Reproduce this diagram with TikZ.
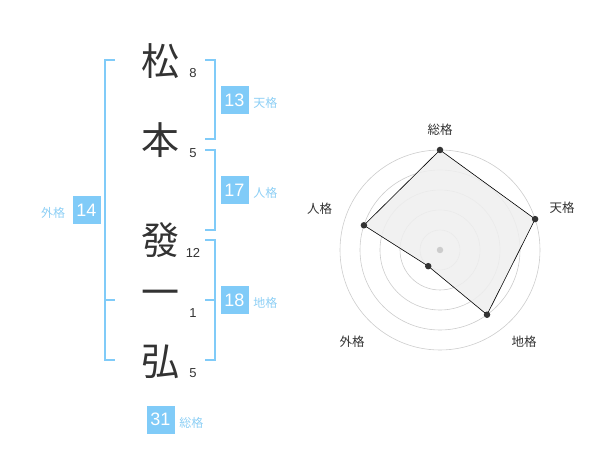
\documentclass[tikz,border=0pt]{standalone}
\usepackage{fontspec}
\setmainfont{Liberation Sans}
\newfontfamily\jpfont{Noto Sans CJK JP}
\usetikzlibrary{positioning}

\definecolor{kakublue}{HTML}{80CBF8}
\definecolor{kakutext}{HTML}{8DCFF5}
\definecolor{ink}{HTML}{333333}
\definecolor{ringgray}{HTML}{CCCCCC}
\definecolor{areagray}{HTML}{EFEFEF}

\tikzset{
  kanji/.style={font=\jpfont\fontsize{38}{38}\selectfont, text=ink, inner sep=0pt},
  strokes/.style={font=\fontsize{13}{13}\selectfont, text=ink, inner sep=0pt},
  kakubox/.style={fill=kakublue, text=white, font=\fontsize{18}{18}\selectfont,
    minimum width=28pt, minimum height=28pt, inner sep=0pt},
  kakuname/.style={font=\jpfont\fontsize{12}{12}\selectfont, text=kakutext, inner sep=0pt},
  bracket/.style={draw=kakublue, line width=2.2pt},
  axisname/.style={font=\jpfont\fontsize{12.5}{12.5}\selectfont, text=ink, inner sep=0pt},
  ring/.style={draw=ringgray, line width=0.6pt},
  dot/.style={circle, fill=ink, inner sep=0pt, minimum size=6.5pt},
}

\begin{document}
\begin{tikzpicture}[x=1pt,y=-1pt,node distance=4.5pt]
  \useasboundingbox (0,0) rectangle (600,470);

  % name
  \node[kanji] (c1) at (160,61) {松};
  \node[kanji] (c2) at (160,140) {本};
  \node[kanji] (c3) at (160,240) {發};
  \node[kanji] (c4) at (160,298) {一};
  \node[kanji] (c5) at (160,362) {弘};

  \node[strokes] (n1) at (193,73) {8};
  \node[strokes] (n2) at (193,153) {5};
  \node[strokes] (n3) at (193,253) {12};
  \node[strokes] (n4) at (193,313) {1};
  \node[strokes] (n5) at (193,373) {5};

  % brackets
  \coordinate (gaitop) at (105,60);
  \coordinate (gaibot) at (105,360);
  \coordinate (tentop) at (215,60);
  \coordinate (tenbot) at (215,139);
  \coordinate (jintop) at (215,150);
  \coordinate (jinbot) at (215,230);
  \coordinate (chitop) at (215,240);
  \coordinate (chibot) at (215,360);

  \draw[bracket] ([xshift=10pt]gaitop) -- (gaitop) -- (gaibot) -- ([xshift=10pt]gaibot);
  \draw[bracket] (105,300) -- (115,300);
  \draw[bracket] ([xshift=-10pt]tentop) -- (tentop) -- (tenbot) -- ([xshift=-10pt]tenbot);
  \draw[bracket] ([xshift=-10pt]jintop) -- (jintop) -- (jinbot) -- ([xshift=-10pt]jinbot);
  \draw[bracket] ([xshift=-10pt]chitop) -- (chitop) -- (chibot) -- ([xshift=-10pt]chibot);
  \draw[bracket] (205,300) -- (215,300);

  % results
  \node[kakubox] (ten) at (234.5,100) {13};
  \node[kakubox] (jin) at (234.5,190) {17};
  \node[kakubox] (chi) at (234.5,300) {18};
  \node[kakubox] (gai) at (86.5,210) {14};
  \node[kakubox] (sou) at (160.5,419.5) {31};

  \node[kakuname, right=of ten, yshift=-3pt] (tenname) {天格};
  \node[kakuname, right=of jin, yshift=-3pt] (jinname) {人格};
  \node[kakuname, right=of chi, yshift=-3pt] (chiname) {地格};
  \node[kakuname, left=7pt of gai, yshift=-3pt] (gainame) {外格};
  \node[kakuname, right=of sou, yshift=-3pt] (souname) {総格};

  % radar
  \begin{scope}[shift={(440,250)}]
    \foreach \r in {20,40,60,80,100}
      \draw[ring] (0,0) circle[radius=\r pt];

    \coordinate (p1) at (-90:100);
    \coordinate (p2) at (-18:100);
    \coordinate (p3) at (54:80);
    \coordinate (p4) at (126:20);
    \coordinate (p5) at (198:80);
    \draw[fill=areagray, fill opacity=0.85, draw=black, line width=0.6pt]
      (p1) -- (p2) -- (p3) -- (p4) -- (p5) -- cycle;
    \node[circle, fill=ringgray, inner sep=0pt, minimum size=6.5pt] (mid) at (0,0) {};
    \foreach \p in {p1,p2,p3,p4,p5}
      \node[dot] at (\p) {};

    \node[axisname] (ax1) at (0,-120) {総格};
    \node[axisname] (ax2) at (122,-42) {天格};
    \node[axisname] (ax3) at (84,92) {地格};
    \node[axisname] (ax4) at (-88,92) {外格};
    \node[axisname] (ax5) at (-120.5,-41) {人格};
  \end{scope}
\end{tikzpicture}
\end{document}
